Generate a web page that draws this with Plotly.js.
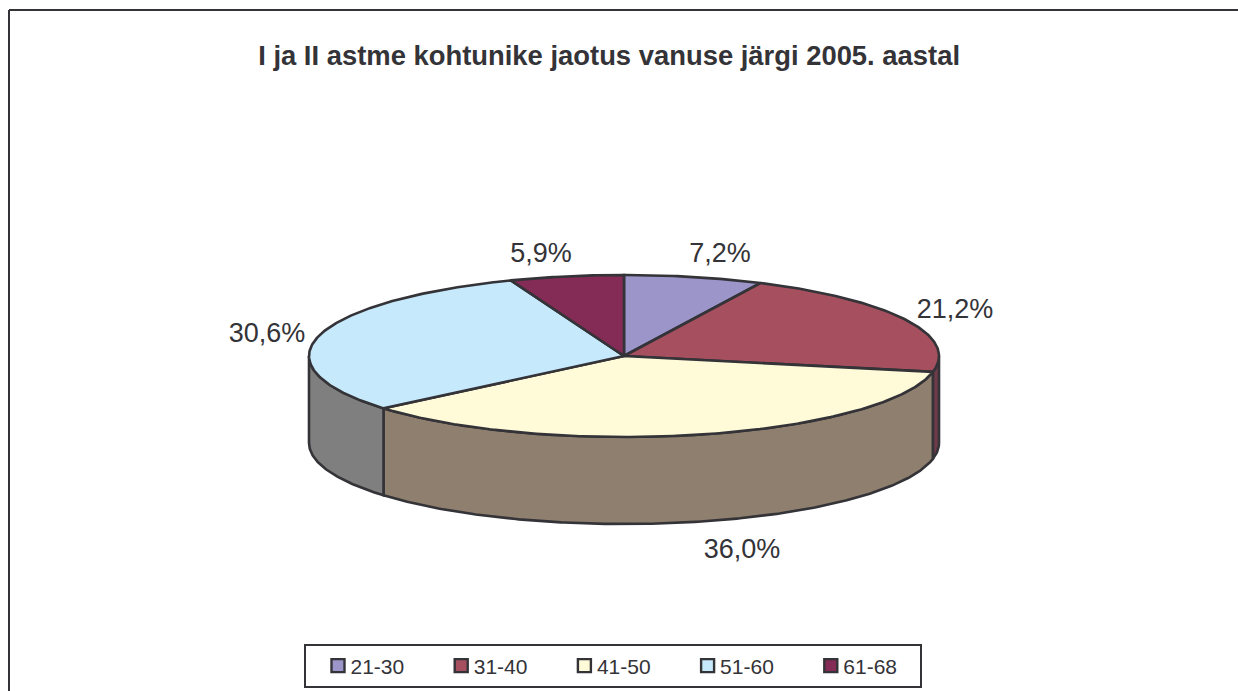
<!DOCTYPE html>
<html><head><meta charset="utf-8">
<script src="https://cdn.plot.ly/plotly-3.0.1.min.js"></script>
<style>html,body{margin:0;padding:0;background:#fff}#c{width:1238px;height:691px}</style></head>
<body><div id="c"></div>
<script>
const categories = ["21-30","31-40","41-50","51-60","61-68"];
const values = [7.2,21.2,36.0,30.6,5.9];
const topColors = ["#9C95CA","#A6505F","#FFFAD8","#C6E9FB","#842B56"];
const sideColors = ["#6E6990","#6F3A4A","#8F7F6E","#7F7F7F","#5A1F3C"];
const titleText = "I ja II astme kohtunike jaotus vanuse järgi 2005. aastal";

// Projection of the disc onto the page
const cx=624, cy=356, rx=315, ry=81, depth=87;
const labelPos = [[720,255],[955,311],[742,551],[267,335],[541,255]];
const edge="#333338";

const total = values.reduce((a,b)=>a+b,0);
let cum=0;
const bounds=[0];
values.forEach(v=>{cum+=v;bounds.push(cum/total*2*Math.PI);});

function arc(a,b,dy){
  const n=Math.max(2,Math.ceil(Math.abs(b-a)/0.01));
  const xs=[],ys=[];
  for(let i=0;i<=n;i++){const t=a+(b-a)*i/n;xs.push(cx+rx*Math.sin(t));ys.push(cy-ry*Math.cos(t)+dy);}
  return [xs,ys];
}
const traces=[];
// side walls (front half only)
values.forEach((v,i)=>{
  const a=Math.max(bounds[i],Math.PI/2), b=Math.min(bounds[i+1],1.5*Math.PI);
  if(b<=a) return;
  const [x1,y1]=arc(a,b,0), [x2,y2]=arc(b,a,depth);
  traces.push({type:"scatter",mode:"lines",x:x1.concat(x2,[x1[0]]),y:y1.concat(y2,[y1[0]]),
    fill:"toself",fillcolor:sideColors[i],line:{color:edge,width:2.6},showlegend:false,hoverinfo:"skip"});
});
// top slices
values.forEach((v,i)=>{
  const [x1,y1]=arc(bounds[i],bounds[i+1],0);
  traces.push({type:"scatter",mode:"lines",x:[cx].concat(x1,[cx]),y:[cy].concat(y1,[cy]),
    fill:"toself",fillcolor:topColors[i],line:{color:edge,width:2.6},showlegend:false,hoverinfo:"skip"});
});
// labels
traces.push({type:"scatter",mode:"text",x:labelPos.map(p=>p[0]),y:labelPos.map(p=>p[1]),
  text:values.map(v=>v.toFixed(1).replace(".",",")+"%"),textposition:"middle center",
  textfont:{family:"Liberation Sans, Arial, sans-serif",size:27,color:"#333338"},showlegend:false,hoverinfo:"skip"});
// legend entries
categories.forEach((c,i)=>{
  traces.push({type:"scatter",mode:"markers",x:[-100],y:[-100],name:c,
    marker:{symbol:"square",size:13,color:topColors[i],line:{color:edge,width:2.4}}});
});
const layout={
  width:1238,height:691,margin:{l:0,r:0,t:0,b:0},paper_bgcolor:"#fff",plot_bgcolor:"#fff",
  xaxis:{range:[0,1238],visible:false,fixedrange:true},
  yaxis:{range:[691,0],visible:false,fixedrange:true},
  title:{text:"<b>"+titleText+"</b>",x:0.492,xanchor:"center",y:0.92,yanchor:"middle",
    font:{family:"Liberation Sans, Arial, sans-serif",size:27.4,color:"#333338"}},
  legend:{orientation:"h",x:318/1238,xanchor:"left",y:1-666/691,yanchor:"middle",
    borderwidth:0,bgcolor:"rgba(0,0,0,0)",entrywidth:78.2,entrywidthmode:"pixels",
    font:{family:"Liberation Sans, Arial, sans-serif",size:21,color:"#333338"},itemclick:false,itemdoubleclick:false},
  shapes:[
    {type:"line",xref:"x",yref:"y",x0:9,y0:10,x1:1238,y1:10,line:{color:edge,width:2}},
    {type:"line",xref:"x",yref:"y",x0:9,y0:10,x1:9,y1:691,line:{color:edge,width:2}},
    {type:"rect",xref:"x",yref:"y",x0:305,y0:645,x1:921,y1:687,line:{color:edge,width:2},fillcolor:"#fff",layer:"below"}
  ]
};
Plotly.newPlot("c",traces,layout,{displayModeBar:false}).then(gd=>{
  // the reference keeps each legend label tight against its swatch
  gd.querySelectorAll(".legendtext").forEach(t=>{t.setAttribute("x",parseFloat(t.getAttribute("x"))-7.5);});
});
</script></body></html>
